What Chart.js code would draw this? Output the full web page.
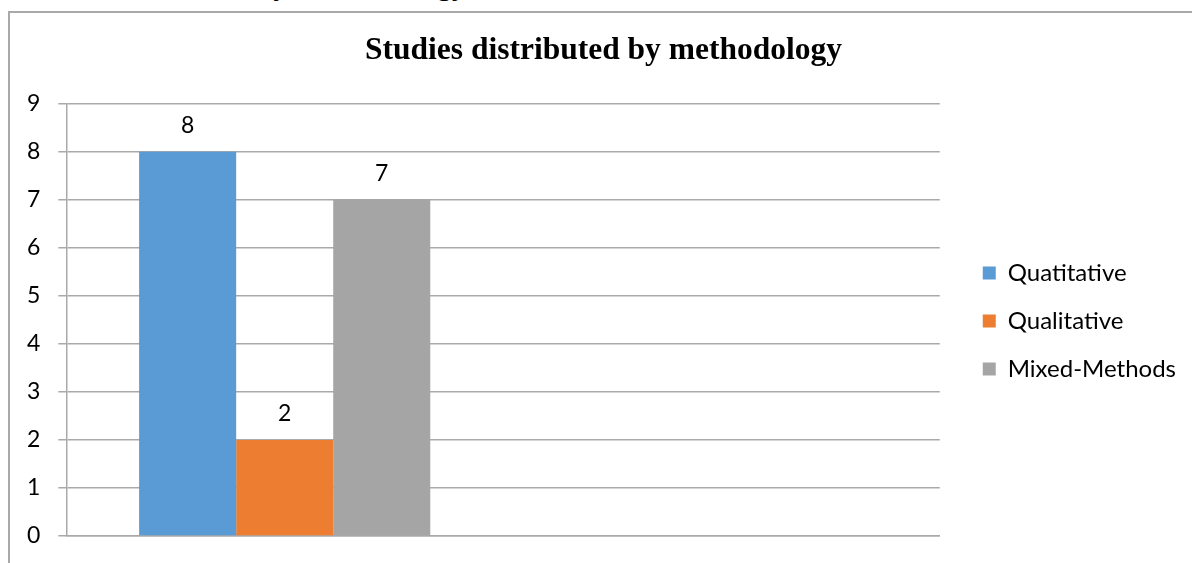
<!DOCTYPE html>
<html>
<head>
<meta charset="utf-8">
<script src="https://cdn.jsdelivr.net/npm/chart.js@4.4.1/dist/chart.umd.min.js"></script>
<style>
  html, body { margin: 0; padding: 0; background: #fff; overflow: hidden; }
  body { width: 1192px; height: 563px; position: relative; }
  #caption {
    position: absolute; right: 722px; top: -33px;
    font: italic 33px "Liberation Serif", "Times New Roman", serif;
    line-height: 33px; white-space: nowrap; color: #000;
  }
  #frame {
    position: absolute; left: 8px; top: 11px; width: 1300px; height: 700px;
    border-left: 2px solid #a9a9a9; border-top: 2px solid #a9a9a9;
  }
  #wrap { position: absolute; left: 0; top: 0; width: 1192px; height: 563px; }
</style>
</head>
<body>
<div id="caption">Studies distributed by methodology</div>
<div id="frame"></div>
<div id="wrap"><canvas id="chart" width="1192" height="563"></canvas></div>
<script>
// Studies per methodology (one category group; the second slot stays empty)
const categories = ['Methodology', ''];
const seriesNames = ['Quatitative', 'Qualitative', 'Mixed-Methods'];
const quantitativeCounts = [8, null];
const qualitativeCounts = [2, null];
const mixedMethodsCounts = [7, null];
const yTickValues = [0, 1, 2, 3, 4, 5, 6, 7, 8, 9];

const seriesColors = ['#5B9BD5', '#ED7D31', '#A5A5A5'];
const tickFont = { family: 'Lato, "Open Sans", sans-serif', size: 23 };
const legendFont = { family: 'Lato, "Open Sans", sans-serif', size: 24 };
const legendGap = 19;      // room between plot area and legend entries
const legendDrop = 53;     // legend entries sit a little below the vertical centre
const titleShift = 6;      // title is centred slightly right of the canvas middle

// Writes each bar's value just above it
const barValueLabels = {
  id: 'barValueLabels',
  afterDatasetsDraw(chart) {
    const ctx = chart.ctx;
    ctx.save();
    ctx.font = `${tickFont.size}px ${tickFont.family}`;
    ctx.fillStyle = '#000';
    ctx.textAlign = 'center';
    ctx.textBaseline = 'alphabetic';
    chart.data.datasets.forEach((ds, di) => {
      const meta = chart.getDatasetMeta(di);
      meta.data.forEach((bar, i) => {
        const v = ds.data[i];
        if (v === null || v === undefined) return;
        ctx.fillText(String(v), bar.x, bar.y - 19);
      });
    });
    ctx.restore();
  }
};

// Fine placement of the legend and title boxes
const boxPlacement = {
  id: 'boxPlacement',
  afterInit(chart) {
    const lg = chart.legend;
    if (!lg) return;
    const baseFit = lg.fit.bind(lg);
    lg.fit = function () { baseFit(); this.width += legendGap; };
  },
  afterLayout(chart) {
    const lg = chart.legend;
    if (lg) {
      lg.left += legendGap;
      lg.top += legendDrop;
      lg.bottom += legendDrop;
    }
    const tb = chart.titleBlock;
    if (tb) { tb.left += titleShift; tb.right += titleShift; }
  }
};

function drawChart() {
  new Chart(document.getElementById('chart'), {
    type: 'bar',
    data: {
      labels: categories,
      datasets: [
        { label: seriesNames[0], data: quantitativeCounts, backgroundColor: seriesColors[0] },
        { label: seriesNames[1], data: qualitativeCounts, backgroundColor: seriesColors[1] },
        { label: seriesNames[2], data: mixedMethodsCounts, backgroundColor: seriesColors[2] }
      ]
    },
    options: {
      responsive: false,
      animation: false,
      devicePixelRatio: 1,
      layout: { autoPadding: false, padding: { left: 9, right: 6, top: 0, bottom: 27 } },
      datasets: { bar: { categoryPercentage: 0.6667, barPercentage: 1.0, borderWidth: 0 } },
      plugins: {
        title: {
          display: true,
          text: 'Studies distributed by methodology',
          color: '#000',
          font: { family: '"Liberation Serif", "Times New Roman", serif', size: 31.5, weight: 'bold' },
          padding: { top: 32, bottom: 34 }
        },
        legend: {
          display: true,
          position: 'right',
          labels: {
            boxWidth: 13,
            boxHeight: 13,
            padding: 24,
            color: '#000',
            font: legendFont
          }
        },
        tooltip: { enabled: false }
      },
      scales: {
        x: {
          ticks: { display: false },
          grid: { display: false, drawTicks: false },
          border: { display: true, color: '#a9a9a9', width: 1.5 }
        },
        y: {
          min: 0,
          max: 9,
          afterBuildTicks(scale) { scale.ticks = yTickValues.map(v => ({ value: v })); },
          // the end labels may overhang the plot area; no extra padding for them
          afterFit(scale) { scale.paddingTop = 0; scale.paddingBottom = 0; },
          ticks: { color: '#000', font: tickFont, padding: 18, stepSize: 1 },
          grid: { color: '#a9a9a9', lineWidth: 1.5, tickLength: 8, drawTicks: true },
          border: { display: true, color: '#a9a9a9', width: 1.5 }
        }
      }
    },
    plugins: [barValueLabels, boxPlacement]
  });
}

// Make sure the label fonts are ready before text gets measured
Promise.all([
  document.fonts.load('23px Lato'),
  document.fonts.load('bold 31.5px "Liberation Serif"')
]).then(drawChart, drawChart);
</script>
</body>
</html>
